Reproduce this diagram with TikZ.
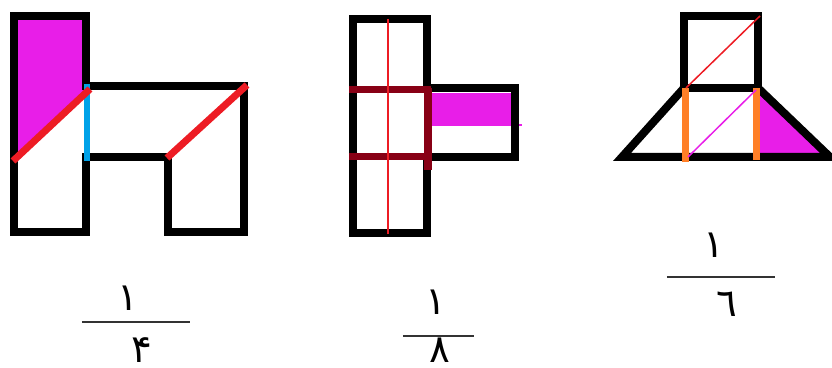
\documentclass[tikz,border=0pt]{standalone}
\usepackage{fontspec}
\newfontfamily\arabicfont[Script=Arabic]{DejaVu Sans}
\definecolor{paintmag}{HTML}{E81EE8}
\definecolor{paintred}{HTML}{ED1C24}
\definecolor{paintblue}{HTML}{00A2E8}
\definecolor{paintmaroon}{HTML}{880015}
\definecolor{paintorange}{HTML}{FF7F27}
\tikzset{
	outline/.style={draw=black, line width=0.08cm, line join=miter},
	thick line/.style={line width=0.07cm},
	thin line/.style={line width=0.015cm},
	digit/.style={font=\arabicfont\fontsize{11}{13}\selectfont, inner sep=0pt},
	fracbar/.style={line width=0.025cm, draw=black!80},
}
\begin{document}
\begin{tikzpicture}[x=0.01cm, y=-0.01cm]
	\useasboundingbox (0, 0) rectangle (832, 368);
	% First shape:
	\fill[paintmag] (14, 16) -- (86, 16) -- (86, 92) -- (14, 158) -- cycle;
	\draw[outline] (14, 16) -- (86, 16) -- (86, 86) -- (244, 86) -- (244, 232) -- (168, 232) -- (168, 157) -- (86, 157) -- (86, 232) -- (14, 232) -- cycle;
	\draw[paintblue, line width=0.065cm] (87, 84) -- (87, 161);
	\draw[paintred, thick line] (13, 161) -- (90, 89);
	\draw[paintred, thick line] (167, 158) -- (247, 85);
	% Second shape:
	\fill[paintmag] (431, 93) rectangle (513, 125);
	\draw[paintmag, thin line] (431, 125) -- (522, 125);
	\draw[outline] (353, 19) -- (427, 19) -- (427, 88) -- (515, 88) -- (515, 157) -- (427, 157) -- (427, 233) -- (353, 233) -- cycle;
	\draw[paintmaroon, thick line] (349, 90) -- (431, 90);
	\draw[paintmaroon, thick line] (349, 157) -- (431, 157);
	\draw[paintmaroon, thick line] (428, 88) -- (428, 170);
	\draw[paintred, thin line] (388, 19) -- (388, 234);
	% Third shape:
	\fill[paintmag] (760, 90) -- (760, 157) -- (828, 157) -- cycle;
	\draw[outline] (684, 16) rectangle (758, 88);
	\draw[outline] (684, 88) -- (622, 157) -- (830, 157) -- (758, 88);
	\draw[paintorange, thick line] (686, 88) -- (686, 162);
	\draw[paintorange, thick line] (757, 88) -- (757, 160);
	\draw[paintred, thin line] (686, 88) -- (760, 16);
	\draw[paintmag, thin line] (688, 157) -- (756, 90);
	% Fractions:
	\node[digit] (num1) at (128, 298) {۱};
	\coordinate (bar1a) at (82, 322);
	\coordinate (bar1b) at (190, 322);
	\draw[fracbar] (bar1a) -- (bar1b);
	\node[digit] (den1) at (142, 350) {۴};
	\node[digit] (num2) at (436, 302) {۱};
	\coordinate (bar2a) at (403, 336);
	\coordinate (bar2b) at (474, 336);
	\draw[fracbar] (bar2a) -- (bar2b);
	\node[digit] (den2) at (440, 350) {۸};
	\node[digit] (num3) at (714, 245) {۱};
	\coordinate (bar3a) at (667, 277);
	\coordinate (bar3b) at (775, 277);
	\draw[fracbar] (bar3a) -- (bar3b);
	\node[digit] (den3) at (727, 304) {٦};
\end{tikzpicture}
\end{document}
